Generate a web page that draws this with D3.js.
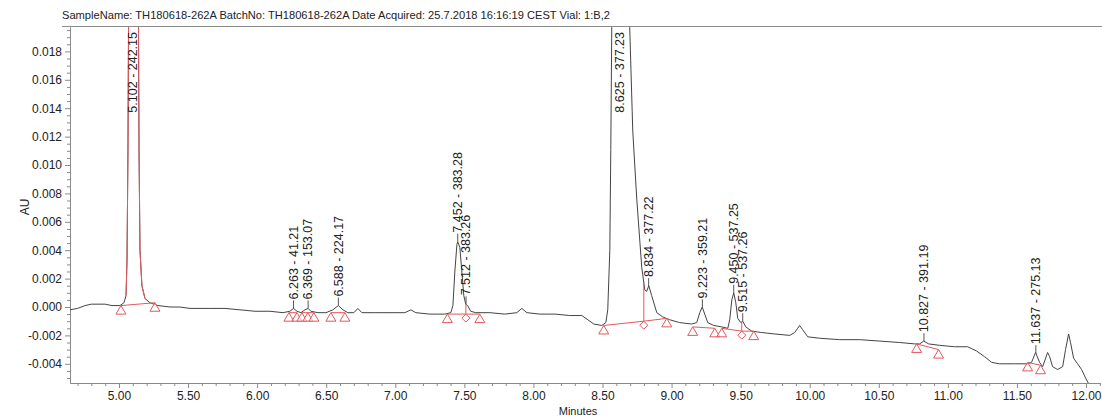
<!DOCTYPE html>
<html>
<head>
<meta charset="utf-8">
<script src="https://cdn.jsdelivr.net/npm/d3@7"></script>
<style>
  body { margin: 0; background: #fff; }
  svg text { font-family: "Liberation Sans", Arial, sans-serif; }
</style>
</head>
<body>
<svg id="chart" width="1102" height="419"></svg>
<script>
// *************************************
// DATA
// *************************************

const titleText = "SampleName: TH180618-262A BatchNo: TH180618-262A Date Acquired: 25.7.2018 16:16:19 CEST Vial: 1:B,2";

const xTickValues = [5, 5.5, 6, 6.5, 7, 7.5, 8, 8.5, 9, 9.5, 10, 10.5, 11, 11.5, 12];
const yTickValues = [-0.004, -0.002, 0, 0.002, 0.004, 0.006, 0.008, 0.010, 0.012, 0.014, 0.016, 0.018];

// chromatogram trace (minutes, AU)
const traceTime = [
  4.645, 4.700, 4.754, 4.800, 4.863, 4.900, 4.949, 5.007, 5.036, 5.051, 5.058, 5.065, 5.069, 5.102,
  5.141, 5.145, 5.152, 5.166, 5.188, 5.224, 5.282, 5.369, 5.440, 5.514, 5.658, 5.767, 5.876, 5.984,
  6.093, 6.187, 6.237, 6.263, 6.288, 6.317, 6.346, 6.369, 6.389, 6.440, 6.498, 6.548, 6.588, 6.621,
  6.657, 6.700, 6.729, 6.758, 6.852, 6.961, 7.069, 7.113, 7.149, 7.250, 7.359, 7.402, 7.417, 7.432,
  7.446, 7.452, 7.467, 7.481, 7.496, 7.510, 7.524, 7.546, 7.583, 7.685, 7.793, 7.880, 7.916, 7.952,
  8.046, 8.155, 8.263, 8.350, 8.394, 8.437, 8.495, 8.524, 8.538, 8.553, 8.560, 8.567, 8.625, 8.697,
  8.719, 8.748, 8.784, 8.806, 8.820, 8.835, 8.856, 8.893, 8.936, 8.987, 9.059, 9.146, 9.182, 9.204,
  9.222, 9.240, 9.262, 9.305, 9.363, 9.407, 9.421, 9.436, 9.450, 9.465, 9.479, 9.501, 9.515, 9.537,
  9.580, 9.653, 9.747, 9.856, 9.891, 9.913, 9.927, 9.949, 9.986, 10.072, 10.217, 10.362, 10.507, 10.651,
  10.760, 10.796, 10.825, 10.861, 10.941, 11.049, 11.143, 11.208, 11.266, 11.317, 11.375, 11.483, 11.577, 11.606,
  11.635, 11.664, 11.686, 11.708, 11.722, 11.737, 11.758, 11.794, 11.831, 11.852, 11.874, 11.888, 11.910, 11.939,
  11.968, 11.997, 12.019, 12.040
];
const traceAU = [
  -0.0002, -0.0001, 0.0001, 0.0002, 0.0002, 0.0002, 0.0001, 0.0001, 0.0003, 0.0008, 0.0033, 0.0111, 0.0197, 0.0242,
  0.0197, 0.0111, 0.0040, 0.0015, 0.0006, 0.0003, 0.0001, 0.0000, 0.0000, -0.0001, -0.0001, -0.0001, -0.0002, -0.0003,
  -0.0003, -0.0004, -0.0003, -0.0001, -0.0003, -0.0004, -0.0002, -0.0001, -0.0003, -0.0004, -0.0004, -0.0002, 0.0001, -0.0002,
  -0.0004, -0.0004, -0.0001, -0.0004, -0.0004, -0.0004, -0.0004, -0.0002, -0.0004, -0.0005, -0.0005, -0.0004, 0.0001, 0.0026,
  0.0044, 0.0046, 0.0042, 0.0026, 0.0008, 0.0002, 0.0001, -0.0003, -0.0004, -0.0004, -0.0005, -0.0004, -0.0001, -0.0004,
  -0.0005, -0.0005, -0.0006, -0.0006, -0.0009, -0.0012, -0.0013, -0.0011, -0.0002, 0.0040, 0.0111, 0.0197, 0.0290, 0.0197,
  0.0124, 0.0076, 0.0028, 0.0012, 0.0011, 0.0015, 0.0008, -0.0004, -0.0007, -0.0009, -0.0011, -0.0012, -0.0011, -0.0004,
  0.0000, -0.0005, -0.0011, -0.0013, -0.0014, -0.0015, -0.0009, 0.0005, 0.0010, 0.0003, -0.0008, -0.0011, -0.0010, -0.0014,
  -0.0017, -0.0018, -0.0019, -0.0020, -0.0018, -0.0015, -0.0013, -0.0016, -0.0021, -0.0022, -0.0023, -0.0023, -0.0024, -0.0025,
  -0.0026, -0.0026, -0.0024, -0.0026, -0.0027, -0.0028, -0.0028, -0.0031, -0.0035, -0.0039, -0.0040, -0.0040, -0.0040, -0.0039,
  -0.0032, -0.0039, -0.0042, -0.0036, -0.0032, -0.0035, -0.0042, -0.0044, -0.0042, -0.0030, -0.0019, -0.0025, -0.0036, -0.0040,
  -0.0044, -0.0050, -0.0054, -0.0054
];

// integrated peaks
const peakTimes = [5.102, 6.263, 6.369, 6.588, 7.452, 7.512, 8.625, 8.834, 9.223, 9.450, 9.515, 10.827, 11.637];
const peakMz = ["242.15", "41.21", "153.07", "224.17", "383.28", "383.26", "377.23", "377.22", "359.21", "537.25", "537.26", "391.19", "275.13"];

// integration markers: t = triangle (start/end), d = diamond (drop)
const markerTime = [5.014, 5.260, 6.230, 6.288, 6.324, 6.367, 6.411, 6.534, 6.635, 7.377, 7.511, 7.612,
  8.509, 8.799, 8.965, 9.153, 9.313, 9.363, 9.508, 9.595, 10.774, 10.933, 11.577, 11.671];
const markerAU = [0.0001, 0.0003, -0.0004, -0.0004, -0.0004, -0.0004, -0.0004, -0.0004, -0.0004, -0.0005, -0.0005, -0.0005,
  -0.0013, -0.0010, -0.0008, -0.0014, -0.0015, -0.0015, -0.0017, -0.0017, -0.0026, -0.0030, -0.0039, -0.0041];
const markerShape = ["t", "t", "t", "t", "t", "t", "t", "t", "t", "t", "d", "t",
  "t", "d", "t", "t", "t", "t", "d", "t", "t", "t", "t", "t"];
const markerGroup = [0, 0, 1, 1, 2, 2, 2, 3, 3, 4, 4, 4, 5, 5, 5, 6, 6, 7, 7, 7, 8, 8, 9, 9];

// *************************************
// LAYOUT
// *************************************

const plotLeft = 70, plotRight = 1100, plotTop = 27, plotBottom = 383;
const red = "#e2585e", axisGrey = "#8a8a8a", ink = "#222";

const svg = d3.select("#chart");

const x = d3.scaleLinear().domain([4.6453, 12.1013]).range([plotLeft, plotRight]);
const y = d3.scaleLinear().domain([-0.005352, 0.019718]).range([plotBottom, plotTop]);

const traceAt = (t) => {
  const i = d3.bisectLeft(traceTime, t);
  if (i <= 0) return traceAU[0];
  if (i >= traceTime.length) return traceAU[traceAU.length - 1];
  const t0 = traceTime[i - 1], t1 = traceTime[i];
  return traceAU[i - 1] + (traceAU[i] - traceAU[i - 1]) * (t - t0) / (t1 - t0);
};

// title + frame line
svg.append("text")
   .attr("x", 62).attr("y", 19)
   .attr("font-size", 11.5).attr("fill", ink)
   .attr("textLength", 548).attr("lengthAdjust", "spacingAndGlyphs")
   .text(titleText);

svg.append("line")
   .attr("x1", 62).attr("x2", 1102)
   .attr("y1", plotTop - 0.5).attr("y2", plotTop - 0.5)
   .attr("stroke", axisGrey);

// *************************************
// AXES
// *************************************

let styleAxis = (g) => {
  g.select(".domain").attr("stroke", axisGrey);
  g.selectAll(".tick line").attr("stroke", axisGrey);
  g.selectAll(".tick text").attr("fill", ink).attr("font-size", 12)
   .attr("font-family", "Liberation Sans, Arial, sans-serif");
};

const xMinor = d3.range(47, 122).map(d => d / 10).filter(d => Math.round(d * 10) % 5 !== 0);
svg.append("g")
   .attr("transform", `translate(0,${plotBottom})`)
   .call(d3.axisBottom(x).tickValues(xMinor).tickSize(3).tickSizeOuter(0).tickFormat(""))
   .call(styleAxis);
svg.append("g")
   .attr("transform", `translate(0,${plotBottom})`)
   .call(d3.axisBottom(x).tickValues(xTickValues).tickSize(5).tickSizeOuter(0).tickPadding(3)
           .tickFormat(d => d.toFixed(2)))
   .call(styleAxis);

const yMinor = d3.range(-10, 40).map(d => d * 0.0005)
                 .filter(d => d > -0.00535 && d < 0.0197 && Math.abs(Math.round(d / 0.0005)) % 4 !== 0);
svg.append("g")
   .attr("transform", `translate(${plotLeft},0)`)
   .call(d3.axisLeft(y).tickValues(yMinor).tickSize(3).tickSizeOuter(0).tickFormat(""))
   .call(styleAxis);
svg.append("g")
   .attr("transform", `translate(${plotLeft},0)`)
   .call(d3.axisLeft(y).tickValues(yTickValues).tickSize(5).tickSizeOuter(0).tickPadding(3)
           .tickFormat(d => d.toFixed(3)))
   .call(styleAxis);

svg.append("text")
   .attr("transform", "translate(25,207) rotate(-90)")
   .attr("text-anchor", "middle").attr("dy", "0.35em")
   .attr("font-size", 12).attr("fill", ink)
   .text("AU");

svg.append("text")
   .attr("x", 578).attr("y", 415)
   .attr("text-anchor", "middle")
   .attr("font-size", 11).attr("fill", ink)
   .text("Minutes");

// *************************************
// TRACE
// *************************************

svg.append("clipPath").attr("id", "plotClip")
   .append("rect")
   .attr("x", plotLeft).attr("y", plotTop)
   .attr("width", plotRight - plotLeft + 2).attr("height", plotBottom - plotTop);

const plot = svg.append("g").attr("clip-path", "url(#plotClip)");
const tracePoints = traceTime.map((t, i) => [t, traceAU[i]]);
const line = d3.line().x(d => x(d[0])).y(d => y(d[1]));

plot.append("path")
    .datum(tracePoints)
    .attr("d", line)
    .attr("fill", "none")
    .attr("stroke", "#444")
    .attr("stroke-width", 1);

// first peak is drawn highlighted
plot.append("path")
    .datum(tracePoints.filter(d => d[0] >= 5.04 && d[0] <= 5.20))
    .attr("d", line)
    .attr("fill", "none")
    .attr("stroke", red)
    .attr("stroke-width", 1);

// *************************************
// INTEGRATION BASELINES & MARKERS
// *************************************

const markers = markerTime.map((t, i) => ({ t: t, v: markerAU[i], shape: markerShape[i], group: markerGroup[i] }));
const groups = d3.groups(markers, d => d.group);

groups.forEach(([, ms]) => {
  plot.append("path")
      .datum(ms)
      .attr("d", d3.line().x(d => x(d.t)).y(d => y(d.v)))
      .attr("fill", "none")
      .attr("stroke", red)
      .attr("stroke-width", 1);
});

// drop lines at the diamonds
markers.filter(d => d.shape === "d").forEach((d) => {
  plot.append("line")
      .attr("x1", x(d.t)).attr("x2", x(d.t))
      .attr("y1", y(d.v)).attr("y2", y(traceAt(d.t)))
      .attr("stroke", red);
});

plot.selectAll("path.marker")
    .data(markers)
    .join("path")
    .attr("class", "marker")
    .attr("d", (d) => {
      const px = x(d.t), py = y(d.v);
      if (d.shape === "t") return `M${px},${py}L${px - 5},${py + 8.5}L${px + 5},${py + 8.5}Z`;
      return `M${px},${py}L${px + 4},${py + 4}L${px},${py + 8}L${px - 4},${py + 4}Z`;
    })
    .attr("fill", "#fff")
    .attr("fill-opacity", 0.6)
    .attr("stroke", red)
    .attr("stroke-width", 1);

// *************************************
// PEAK LABELS
// *************************************

peakTimes.forEach((t, i) => {
  const px = x(t);
  const py = y(traceAt(t));
  const label = svg.append("text")
                   .attr("font-size", 12.5)
                   .attr("fill", ink)
                   .attr("dy", "0.35em")
                   .text(`${t.toFixed(3)} - ${peakMz[i]}`);
  const len = label.node().getComputedTextLength();
  let base = py - 9;
  const clamped = base - len < plotTop + 8;
  if (clamped) base = plotTop + 5 + len;
  label.attr("transform", `translate(${px},${base}) rotate(-90)`);

  if (!clamped) {
    svg.append("line")
       .attr("x1", px).attr("x2", px)
       .attr("y1", py).attr("y2", py - 8)
       .attr("stroke", "#555");
  }
});
</script>
</body>
</html>
